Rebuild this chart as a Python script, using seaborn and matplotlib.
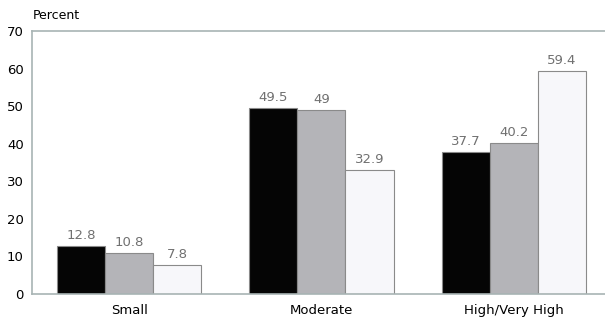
import pandas as pd
import matplotlib
matplotlib.use('Agg')
import matplotlib.pyplot as plt
import seaborn as sns

# ================= DATA =================
categorias = ['Small', 'Moderate', 'High/Very High']
series = ['A', 'B', 'C']
valores_a = [12.8, 49.5, 37.7]
valores_b = [10.8, 49.0, 40.2]
valores_c = [7.8, 32.9, 59.4]
rotulos = [['12.8', '49.5', '37.7'], ['10.8', '49', '40.2'], ['7.8', '32.9', '59.4']]

df = pd.DataFrame({
    'categoria': categorias * 3,
    'serie': [s for s in series for _ in categorias],
    'valor': valores_a + valores_b + valores_c,
})

# ================= PLOT =================
sns.set_style('white')
plt.rcParams['font.family'] = ['DejaVu Sans']

fig = plt.figure(figsize=(6.05, 3.18), dpi=100)
ax = fig.add_axes([0.053, 0.0755, 0.947, 0.827])

cores = ['#050505', '#b4b4b8', '#f7f7fa']
sns.barplot(data=df, x='categoria', y='valor', hue='serie', order=categorias,
            hue_order=series, palette=cores, width=0.75, saturation=1,
            edgecolor='#8a8a8a', linewidth=0.8, legend=False, ax=ax)

for cont, labs in zip(ax.containers, rotulos):
    ax.bar_label(cont, labels=labs, padding=3, fontsize=9.5, color='#707070')

ax.set_ylim(0, 70)
ax.set_xlim(-0.505, 2.475)
ax.set_yticks(range(0, 71, 10))
ax.tick_params(axis='y', length=3, direction='in', labelsize=9.5, pad=6,
               color='#999999', labelcolor='black')
ax.tick_params(axis='x', length=0, labelsize=9.5, pad=7, labelcolor='black')
ax.set_xlabel('')
ax.set_ylabel('')
for lado in ['left', 'top', 'bottom']:
    ax.spines[lado].set_color('#a8b4b4')
    ax.spines[lado].set_linewidth(1.2)
ax.spines['right'].set_visible(False)

fig.text(0.054, 0.952, 'Percent', fontsize=9, va='center', color='black')

plt.savefig('out.png', dpi=100)
